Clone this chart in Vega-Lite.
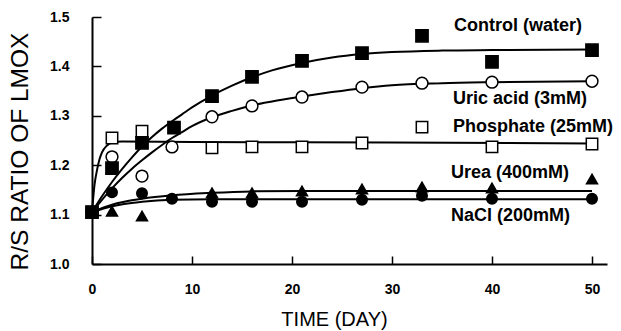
{
  "$schema": "https://vega.github.io/schema/vega-lite/v6.json",
  "width": 515,
  "height": 247,
  "autosize": "none",
  "padding": {"left": 92, "top": 17, "right": 14, "bottom": 67},
  "background": "white",
  "config": {"view": {"stroke": null}, "font": "Liberation Sans"},
  "datasets": {
    "curves": [
      {"series": "Control", "day": 0, "ratio": 1.105},
      {"series": "Control", "day": 1, "ratio": 1.137},
      {"series": "Control", "day": 2, "ratio": 1.166},
      {"series": "Control", "day": 3, "ratio": 1.192},
      {"series": "Control", "day": 4, "ratio": 1.216},
      {"series": "Control", "day": 5, "ratio": 1.238},
      {"series": "Control", "day": 6, "ratio": 1.257},
      {"series": "Control", "day": 7, "ratio": 1.274},
      {"series": "Control", "day": 8, "ratio": 1.289},
      {"series": "Control", "day": 9, "ratio": 1.303},
      {"series": "Control", "day": 10, "ratio": 1.317},
      {"series": "Control", "day": 12, "ratio": 1.341},
      {"series": "Control", "day": 14, "ratio": 1.361},
      {"series": "Control", "day": 16, "ratio": 1.378},
      {"series": "Control", "day": 18, "ratio": 1.392},
      {"series": "Control", "day": 21, "ratio": 1.407},
      {"series": "Control", "day": 24, "ratio": 1.418},
      {"series": "Control", "day": 27, "ratio": 1.425},
      {"series": "Control", "day": 30, "ratio": 1.429},
      {"series": "Control", "day": 35, "ratio": 1.432},
      {"series": "Control", "day": 40, "ratio": 1.433},
      {"series": "Control", "day": 50, "ratio": 1.434},
      {"series": "Uric", "day": 0, "ratio": 1.105},
      {"series": "Uric", "day": 1, "ratio": 1.13},
      {"series": "Uric", "day": 2, "ratio": 1.153},
      {"series": "Uric", "day": 3, "ratio": 1.174},
      {"series": "Uric", "day": 4, "ratio": 1.193},
      {"series": "Uric", "day": 5, "ratio": 1.21},
      {"series": "Uric", "day": 6, "ratio": 1.226},
      {"series": "Uric", "day": 7, "ratio": 1.241},
      {"series": "Uric", "day": 8, "ratio": 1.255},
      {"series": "Uric", "day": 9, "ratio": 1.267},
      {"series": "Uric", "day": 10, "ratio": 1.279},
      {"series": "Uric", "day": 12, "ratio": 1.297},
      {"series": "Uric", "day": 14, "ratio": 1.31},
      {"series": "Uric", "day": 16, "ratio": 1.321},
      {"series": "Uric", "day": 18, "ratio": 1.329},
      {"series": "Uric", "day": 21, "ratio": 1.339},
      {"series": "Uric", "day": 24, "ratio": 1.348},
      {"series": "Uric", "day": 27, "ratio": 1.356},
      {"series": "Uric", "day": 30, "ratio": 1.362},
      {"series": "Uric", "day": 35, "ratio": 1.366},
      {"series": "Uric", "day": 40, "ratio": 1.368},
      {"series": "Uric", "day": 50, "ratio": 1.37},
      {"series": "Phosphate", "day": 0, "ratio": 1.105},
      {"series": "Phosphate", "day": 0.25, "ratio": 1.16},
      {"series": "Phosphate", "day": 0.5, "ratio": 1.19},
      {"series": "Phosphate", "day": 0.75, "ratio": 1.212},
      {"series": "Phosphate", "day": 1, "ratio": 1.226},
      {"series": "Phosphate", "day": 1.5, "ratio": 1.24},
      {"series": "Phosphate", "day": 2, "ratio": 1.246},
      {"series": "Phosphate", "day": 3, "ratio": 1.248},
      {"series": "Phosphate", "day": 10, "ratio": 1.247},
      {"series": "Phosphate", "day": 30, "ratio": 1.246},
      {"series": "Phosphate", "day": 50, "ratio": 1.244},
      {"series": "Urea", "day": 0, "ratio": 1.105},
      {"series": "Urea", "day": 2, "ratio": 1.12},
      {"series": "Urea", "day": 5, "ratio": 1.132},
      {"series": "Urea", "day": 8, "ratio": 1.139},
      {"series": "Urea", "day": 12, "ratio": 1.144},
      {"series": "Urea", "day": 16, "ratio": 1.147},
      {"series": "Urea", "day": 21, "ratio": 1.148},
      {"series": "Urea", "day": 50, "ratio": 1.148},
      {"series": "NaCl", "day": 0, "ratio": 1.105},
      {"series": "NaCl", "day": 2, "ratio": 1.117},
      {"series": "NaCl", "day": 5, "ratio": 1.126},
      {"series": "NaCl", "day": 8, "ratio": 1.13},
      {"series": "NaCl", "day": 12, "ratio": 1.131},
      {"series": "NaCl", "day": 50, "ratio": 1.131}
    ],
    "points": [
      {"series": "NaCl", "day": 0, "ratio": 1.105},
      {"series": "NaCl", "day": 2, "ratio": 1.145},
      {"series": "NaCl", "day": 5, "ratio": 1.143},
      {"series": "NaCl", "day": 8, "ratio": 1.132},
      {"series": "NaCl", "day": 12, "ratio": 1.126},
      {"series": "NaCl", "day": 16, "ratio": 1.126},
      {"series": "NaCl", "day": 21, "ratio": 1.126},
      {"series": "NaCl", "day": 27, "ratio": 1.13},
      {"series": "NaCl", "day": 33, "ratio": 1.138},
      {"series": "NaCl", "day": 40, "ratio": 1.132},
      {"series": "NaCl", "day": 50, "ratio": 1.132},
      {"series": "Urea", "day": 0, "ratio": 1.105},
      {"series": "Urea", "day": 2, "ratio": 1.107},
      {"series": "Urea", "day": 5, "ratio": 1.097},
      {"series": "Urea", "day": 12, "ratio": 1.144},
      {"series": "Urea", "day": 16, "ratio": 1.144},
      {"series": "Urea", "day": 21, "ratio": 1.148},
      {"series": "Urea", "day": 27, "ratio": 1.152},
      {"series": "Urea", "day": 33, "ratio": 1.156},
      {"series": "Urea", "day": 40, "ratio": 1.154},
      {"series": "Urea", "day": 50, "ratio": 1.172},
      {"series": "Phosphate", "day": 0, "ratio": 1.105},
      {"series": "Phosphate", "day": 2, "ratio": 1.255},
      {"series": "Phosphate", "day": 5, "ratio": 1.269},
      {"series": "Phosphate", "day": 12, "ratio": 1.235},
      {"series": "Phosphate", "day": 16, "ratio": 1.237},
      {"series": "Phosphate", "day": 21, "ratio": 1.237},
      {"series": "Phosphate", "day": 27, "ratio": 1.245},
      {"series": "Phosphate", "day": 33, "ratio": 1.277},
      {"series": "Phosphate", "day": 40, "ratio": 1.237},
      {"series": "Phosphate", "day": 50, "ratio": 1.243},
      {"series": "Uric", "day": 0, "ratio": 1.105},
      {"series": "Uric", "day": 2, "ratio": 1.217},
      {"series": "Uric", "day": 5, "ratio": 1.178},
      {"series": "Uric", "day": 8, "ratio": 1.237},
      {"series": "Uric", "day": 12, "ratio": 1.298},
      {"series": "Uric", "day": 16, "ratio": 1.32},
      {"series": "Uric", "day": 21, "ratio": 1.338},
      {"series": "Uric", "day": 27, "ratio": 1.358},
      {"series": "Uric", "day": 33, "ratio": 1.366},
      {"series": "Uric", "day": 40, "ratio": 1.368},
      {"series": "Uric", "day": 50, "ratio": 1.37},
      {"series": "Control", "day": 0, "ratio": 1.105},
      {"series": "Control", "day": 2, "ratio": 1.194},
      {"series": "Control", "day": 5, "ratio": 1.245},
      {"series": "Control", "day": 8.2, "ratio": 1.276},
      {"series": "Control", "day": 12, "ratio": 1.34},
      {"series": "Control", "day": 16, "ratio": 1.379},
      {"series": "Control", "day": 21, "ratio": 1.411},
      {"series": "Control", "day": 27, "ratio": 1.427},
      {"series": "Control", "day": 33, "ratio": 1.462},
      {"series": "Control", "day": 40, "ratio": 1.409},
      {"series": "Control", "day": 50, "ratio": 1.433}
    ],
    "labels": [
      {"label": "Control (water)", "day": 36.2, "ratio": 1.482},
      {"label": "Uric acid (3mM)", "day": 36.1, "ratio": 1.334},
      {"label": "Phosphate (25mM)", "day": 36.1, "ratio": 1.277},
      {"label": "Urea (400mM)", "day": 35.9, "ratio": 1.184},
      {"label": "NaCl (200mM)", "day": 35.9, "ratio": 1.097}
    ]
  },
  "encoding": {
    "x": {
      "field": "day",
      "type": "quantitative",
      "scale": {"domain": [0, 51.5], "nice": false, "zero": false},
      "axis": {
        "values": [0, 10, 20, 30, 40, 50],
        "grid": false,
        "domainColor": "black",
        "domainWidth": 2,
        "tickColor": "black",
        "tickWidth": 1.5,
        "tickSize": -8,
        "labelPadding": 26,
        "labelFlush": false,
        "labelFont": "Liberation Sans",
        "labelFontSize": 14,
        "labelFontWeight": "bold",
        "labelColor": "black",
        "title": "TIME (DAY)",
        "titleFont": "Liberation Sans",
        "titleFontSize": 20,
        "titleFontWeight": "normal",
        "titleColor": "black",
        "titleX": 242,
        "titleY": 55,
        "titleBaseline": "middle",
        "titleAnchor": null
      }
    },
    "y": {
      "field": "ratio",
      "type": "quantitative",
      "scale": {"domain": [1.0, 1.5], "nice": false, "zero": false},
      "axis": {
        "values": [1.0, 1.1, 1.2, 1.3, 1.4, 1.5],
        "format": ".1f",
        "grid": false,
        "domainColor": "black",
        "domainWidth": 2,
        "tickColor": "black",
        "tickWidth": 1.5,
        "tickSize": -9,
        "labelPadding": 32,
        "labelFlush": false,
        "labelFont": "Liberation Sans",
        "labelFontSize": 14,
        "labelFontWeight": "bold",
        "labelColor": "black",
        "title": "R/S RATIO OF LMOX",
        "titleFont": "Liberation Sans",
        "titleFontSize": 24.5,
        "titleFontWeight": "normal",
        "titleColor": "black",
        "titleX": -72,
        "titleY": 134,
        "titleAngle": 270,
        "titleAlign": "center",
        "titleBaseline": "middle"
      }
    }
  },
  "layer": [
    {
      "data": {"name": "curves"},
      "mark": {"type": "line", "interpolate": "monotone", "color": "black", "strokeWidth": 2},
      "encoding": {"detail": {"field": "series"}}
    },
    {
      "data": {"name": "points"},
      "mark": {"type": "point", "stroke": "black", "strokeWidth": 1.5, "opacity": 1, "fillOpacity": 1},
      "encoding": {
        "shape": {"field": "series", "type": "nominal", "scale": {"domain": ["Control", "Uric", "Phosphate", "Urea", "NaCl"], "range": ["square", "circle", "square", "triangle-up", "circle"]}, "legend": null},
        "fill": {"field": "series", "type": "nominal", "scale": {"domain": ["Control", "Uric", "Phosphate", "Urea", "NaCl"], "range": ["black", "white", "white", "black", "black"]}, "legend": null},
        "size": {"field": "series", "type": "nominal", "scale": {"domain": ["Control", "Uric", "Phosphate", "Urea", "NaCl"], "range": [150, 110, 150, 130, 110]}, "legend": null}
      }
    },
    {
      "data": {"name": "labels"},
      "mark": {"type": "text", "align": "left", "baseline": "middle", "font": "Liberation Sans", "fontSize": 18, "fontWeight": "bold", "color": "black"},
      "encoding": {"text": {"field": "label", "type": "nominal"}}
    }
  ]
}
